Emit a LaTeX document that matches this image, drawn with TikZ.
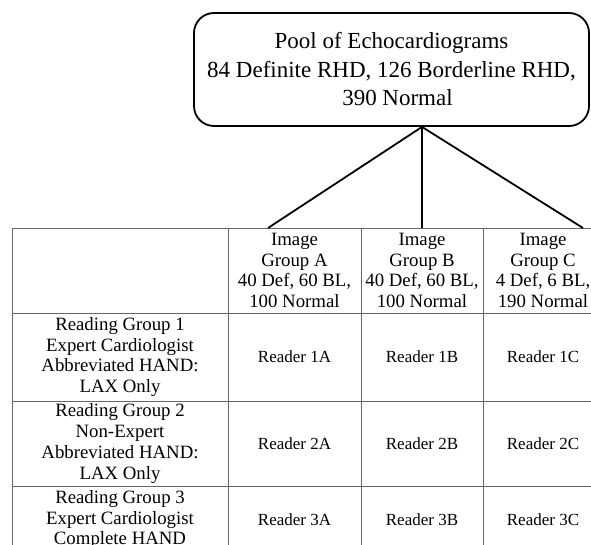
\documentclass[tikz,border=0pt]{standalone}
\usepackage{fontspec}
\setmainfont{Liberation Serif}

\begin{document}
\begin{tikzpicture}
    [x=1pt, y=-1pt,
     pool/.style={rectangle, rounded corners=20pt, draw, line width=1.8pt, minimum width=395pt, minimum height=113pt, align=center, font=\fontsize{23}{28.5}\selectfont},
     cella/.style={rectangle, draw=black!60, line width=0.9pt, inner sep=0pt, align=center, font=\fontsize{18.8}{20.8}\selectfont},
     lettore/.style={cella, font=\fontsize{17}{19}\selectfont},
     ramo/.style={line width=1.8pt}]
    \useasboundingbox (0,0) rectangle (591,545);
    \clip (0,0) rectangle (591,545);

    \node[pool] (pool) at (391.5,69.5) {Pool of Echocardiograms\\84 Definite RHD, 126 Borderline RHD,\\\hspace*{12pt}390 Normal};

    \node[cella, minimum width=216pt, minimum height=85pt] (hd0) at (120,270.5) {};
    \node[cella, minimum width=133pt, minimum height=85pt] (hdA) at (294.5,270.5) {Image\\Group A\\40 Def, 60 BL,\\100 Normal};
    \node[cella, minimum width=122pt, minimum height=85pt] (hdB) at (422,270.5) {Image\\Group B\\40 Def, 60 BL,\\100 Normal};
    \node[cella, minimum width=120pt, minimum height=85pt] (hdC) at (543,270.5) {Image\\Group C\\4 Def, 6 BL,\\190 Normal};

    \node[cella, minimum width=216pt, minimum height=88pt] (gr1) at (120,357) {Reading Group 1\\Expert Cardiologist\\Abbreviated HAND:\\LAX Only};
    \node[cella, minimum width=216pt, minimum height=85pt] (gr2) at (120,443.5) {Reading Group 2\\Non-Expert\\Abbreviated HAND:\\LAX Only};
    \node[cella, minimum width=216pt, minimum height=67pt] (gr3) at (120,519.5) {Reading Group 3\\Expert Cardiologist\\Complete HAND};

    \foreach \r/\y/\h in {1/357/88, 2/443.5/85, 3/519.5/67}
      \foreach \c/\x/\w in {A/294.5/133, B/422/122, C/543/120}
        \node[lettore, minimum width=\w pt, minimum height=\h pt] (r\r\c) at (\x,\y) {Reader \r\c};

    \coordinate (apice) at (pool.south -| hdB.north);
    \coordinate (kL) at (268,228);
    \coordinate (kR) at (583,228);

    \draw[ramo] (apice) -- (kL);
    \draw[ramo] (apice) -- (hdB.north);
    \draw[ramo] (apice) -- (kR);

\end{tikzpicture}
\end{document}
